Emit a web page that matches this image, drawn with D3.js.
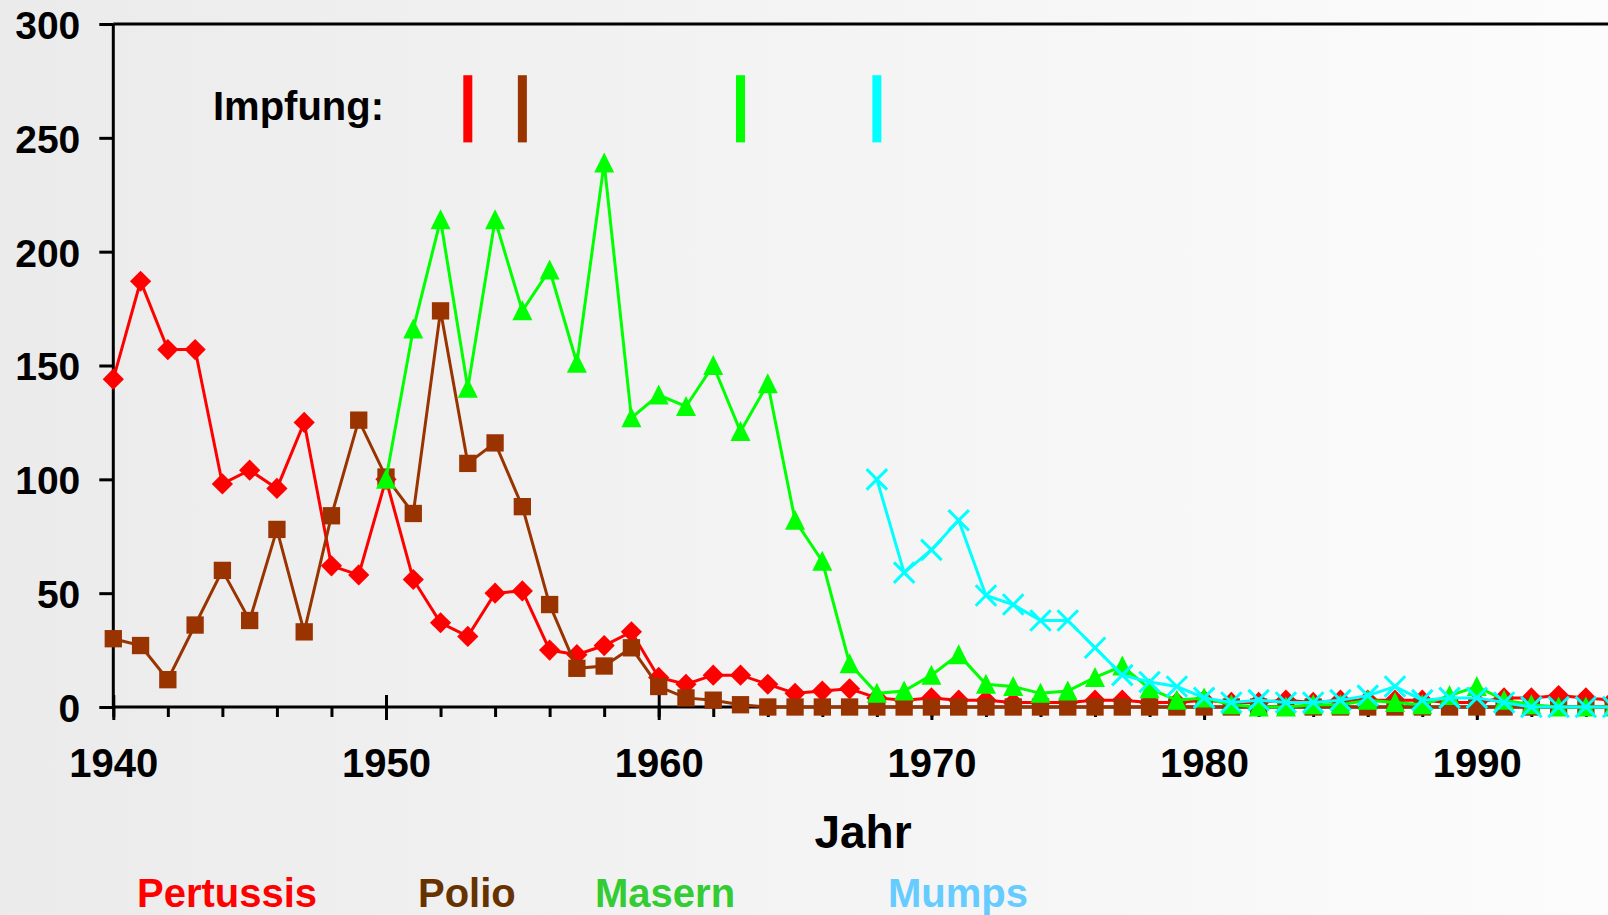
<!DOCTYPE html>
<html lang="de">
<head>
    <meta charset="UTF-8">
    <title>Erkrankungen und Impfung</title>
    <script src="https://d3js.org/d3.v7.min.js"></script>
    <style>
        body { margin: 0; background: #fff; }
        svg { display: block; font-family: "Liberation Sans", Arial, sans-serif; font-weight: bold; }
    </style>
</head>
<body>
    <svg width="1608" height="915"></svg>

    <script>
        // Jahre 1940 - 1995
        const years = d3.range(1940, 1996);

        // Werte (null = keine Daten)
        const pertussis = [144, 187, 157, 157, 98, 104, 96, 125, 62, 58,
                           100, 56, 37, 31, 50, 51, 25, 23, 27, 33,
                           13, 10, 14, 14, 10, 6, 7, 8, 4, 3,
                           4, 3, 3, 2, 2, 2, 3, 3, 2, 2,
                           3, 2, 2, 3, 2, 3, 3, 3, 3, 2,
                           2, 4, 4, 5, 4, 3];
        const polio = [30, 27, 12, 36, 60, 38, 78, 33, 84, 126,
                       101, 85, 174, 107, 116, 88, 45, 17, 18, 26,
                       9, 4, 3, 1, 0, 0, 0, 0, 0, 0,
                       0, 0, 0, 0, 0, 0, 0, 0, 0, 0,
                       0, 0, 0, 0, 0, 0, 0, 0, 0, 0,
                       0, 0, 0, 0, 0, 0];
        const masern = [null, null, null, null, null, null, null, null, null, null,
                        100, 166, 214, 140, 214, 174, 192, 151, 239, 127,
                        137, 132, 150, 121, 142, 82, 64, 19, 6, 7,
                        14, 23, 10, 9, 6, 7, 13, 18, 8, 3,
                        4, 1, 0, 0, 1, 1, 3, 2, 1, 5,
                        9, 3, 1, 0, 0, 0];
        const mumps = [null, null, null, null, null, null, null, null, null, null,
                       null, null, null, null, null, null, null, null, null, null,
                       null, null, null, null, null, null, null, null, 100, 59,
                       69, 82, 49, 45, 38, 38, 26, 14, 11, 9,
                       4, 2, 3, 2, 2, 3, 5, 9, 3, 4,
                       4, 2, 0, 0, 0, 0];

        const seriesNames = ["Pertussis", "Polio", "Masern", "Mumps"];
        const impfJahre = [1953, 1955, 1963, 1968];
        const impfBereich = [248, 277.5];
        const yTicks = [0, 50, 100, 150, 200, 250, 300];
        const xTicksMajor = [1940, 1950, 1960, 1970, 1980, 1990];
        const xTicksMinor = d3.range(1940, 1996, 2);

        const lineColors = ["#ff0000", "#993300", "#00ff00", "#00ffff"];
        const labelColors = ["#ff0000", "#663300", "#33cc33", "#66ccff"];

        const svg = d3.select("svg");
        const W = 1608;

        // Hintergrund mit Verlauf
        const grad = svg.append("defs").append("linearGradient")
            .attr("id", "bg").attr("x1", 0).attr("x2", 1).attr("y1", 0).attr("y2", 0);
        grad.append("stop").attr("offset", "0%").attr("stop-color", "#ebebeb");
        grad.append("stop").attr("offset", "100%").attr("stop-color", "#fcfcfc");
        svg.append("rect").attr("width", W).attr("height", 915).attr("fill", "url(#bg)");

        const x = d3.scaleLinear().domain([1940, 1990]).range([113.3, 1476.8]);
        const y = d3.scaleLinear().domain([0, 300]).range([707, 24]);

        // y-Achse
        const yAxis = svg.append("g")
            .attr("transform", `translate(${x(1940)},0)`)
            .call(d3.axisLeft(y).tickValues(yTicks).tickSize(14).tickPadding(19));
        yAxis.select(".domain").remove();
        yAxis.selectAll(".tick line").attr("stroke", "#000").attr("stroke-width", 3);
        yAxis.selectAll(".tick text")
            .attr("font-size", 39).attr("font-family", "Liberation Sans, Arial, sans-serif")
            .attr("font-weight", "bold").attr("fill", "#000").attr("dy", "0.37em");

        // x-Achse: kleine Striche alle 2 Jahre
        const xMinor = svg.append("g")
            .attr("transform", `translate(0,${y(0)})`)
            .call(d3.axisBottom(x).tickValues(xTicksMinor).tickSize(10).tickFormat(""));
        xMinor.select(".domain").remove();
        xMinor.selectAll(".tick line").attr("stroke", "#000").attr("stroke-width", 3);

        // große Striche und Beschriftung
        const xMajor = svg.append("g")
            .attr("transform", `translate(0,${y(0)})`)
            .call(d3.axisBottom(x).tickValues(xTicksMajor).tickSize(13).tickFormat(d3.format("d")).tickPadding(29));
        xMajor.select(".domain").remove();
        xMajor.selectAll(".tick line").attr("y1", -12).attr("stroke", "#000").attr("stroke-width", 3);
        xMajor.selectAll(".tick text")
            .attr("font-size", 40).attr("font-family", "Liberation Sans, Arial, sans-serif")
            .attr("font-weight", "bold").attr("fill", "#000");

        // Rahmen: links, oben, unten
        svg.append("line").attr("x1", x(1940)).attr("x2", x(1940)).attr("y1", y(300)).attr("y2", y(0))
            .attr("stroke", "#000").attr("stroke-width", 3);
        svg.append("line").attr("x1", x(1940)).attr("x2", W).attr("y1", y(300)).attr("y2", y(300))
            .attr("stroke", "#000").attr("stroke-width", 3);
        svg.append("line").attr("x1", x(1940)).attr("x2", W).attr("y1", y(0)).attr("y2", y(0))
            .attr("stroke", "#000").attr("stroke-width", 3);

        // Impfung-Markierungen
        svg.append("text").attr("x", 213).attr("y", 120)
            .attr("font-size", 40).attr("fill", "#000").text("Impfung:");
        svg.selectAll(".impf").data(impfJahre).enter().append("rect")
            .attr("class", "impf")
            .attr("x", d => x(d) - 4.5)
            .attr("width", 9)
            .attr("y", y(impfBereich[1]))
            .attr("height", y(impfBereich[0]) - y(impfBereich[1]))
            .attr("fill", (d, i) => lineColors[i]);

        // Symbole
        const crossType = {
            draw(context, size) {
                const r = Math.sqrt(size) / 2;
                context.moveTo(-r, -r); context.lineTo(r, r);
                context.moveTo(r, -r); context.lineTo(-r, r);
            }
        };
        // Dreieck etwa so hoch wie breit, um den Mittelpunkt zentriert
        const triangleType = {
            draw(context, size) {
                const r = Math.sqrt(size) / 2;
                context.moveTo(0, -r * 1.05);
                context.lineTo(r, r * 0.95);
                context.lineTo(-r, r * 0.95);
                context.closePath();
            }
        };
        const symbols = [
            { type: d3.symbolSquare, size: 225, rotate: 45, fill: true },
            { type: d3.symbolSquare, size: 300, rotate: 0, fill: true },
            { type: triangleType, size: 400, rotate: 0, fill: true },
            { type: crossType, size: 420, rotate: 0, fill: false }
        ];

        const allSeries = [pertussis, polio, masern, mumps];
        const line = d3.line()
            .defined(d => d.value !== null)
            .x(d => x(d.year))
            .y(d => y(d.value));

        allSeries.forEach((values, i) => {
            const data = years.map((yr, j) => ({ year: yr, value: values[j] }));
            const g = svg.append("g").attr("class", "series-" + seriesNames[i]);
            g.append("path")
                .datum(data)
                .attr("fill", "none")
                .attr("stroke", lineColors[i])
                .attr("stroke-width", 3)
                .attr("d", line);

            const sym = symbols[i];
            g.selectAll("path.marker")
                .data(data.filter(d => d.value !== null))
                .enter().append("path")
                .attr("class", "marker")
                .attr("transform", d => `translate(${x(d.year)},${y(d.value)}) rotate(${sym.rotate})`)
                .attr("d", d3.symbol().type(sym.type).size(sym.size))
                .attr("fill", sym.fill ? lineColors[i] : "none")
                .attr("stroke", sym.fill ? "none" : lineColors[i])
                .attr("stroke-width", sym.fill ? 0 : 3);
        });

        // Achsentitel
        svg.append("text").attr("x", 863).attr("y", 848).attr("text-anchor", "middle")
            .attr("font-size", 46).attr("fill", "#000").text("Jahr");

        // Legende
        const legendX = [137, 418, 595, 888];
        svg.selectAll(".legend").data(seriesNames).enter().append("text")
            .attr("class", "legend")
            .attr("x", (d, i) => legendX[i])
            .attr("y", 907)
            .attr("font-size", 40)
            .attr("fill", (d, i) => labelColors[i])
            .text(d => d);
    </script>
</body>
</html>
